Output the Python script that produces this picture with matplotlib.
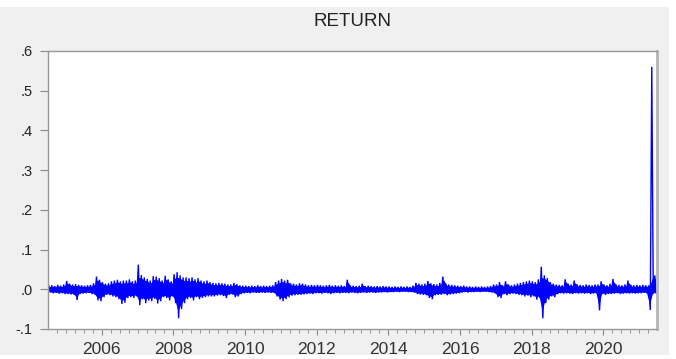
import matplotlib
matplotlib.use("Agg")
import matplotlib.pyplot as plt
import numpy as np
from matplotlib.patches import Rectangle

# Monthly high / low of daily RETURN, in thousandths, Jul 2004 .. Jun 2021
start_year = 2004.5
hi = [
    9, 10, 8, 11, 9, 12,                                  # 2004 Jul-Dec
    21, 14, 12, 13, 11, 10, 9, 10, 11, 15, 32, 24,        # 2005
    18, 14, 15, 20, 22, 24, 20, 22, 22, 25, 20, 22,       # 2006
    62, 36, 30, 26, 22, 33, 32, 28, 22, 34, 25, 20,       # 2007
    38, 43, 35, 30, 30, 28, 30, 25, 28, 22, 20, 22,       # 2008
    18, 16, 15, 16, 15, 14, 12, 12, 16, 13, 10, 9,        # 2009
    9, 8, 9, 8, 10, 8, 9, 8, 9, 10, 18, 22,               # 2010
    26, 22, 24, 15, 14, 12, 15, 14, 12, 10, 11, 10,       # 2011
    11, 10, 9, 10, 11, 9, 10, 9, 10, 8, 24, 9,            # 2012
    9, 8, 9, 14, 8, 9, 8, 7, 8, 7, 8, 7,                  # 2013
    7, 6, 7, 6, 7, 6, 7, 6, 9, 16, 14, 12,                # 2014
    14, 21, 15, 13, 12, 16, 32, 14, 12, 11, 10, 9,        # 2015
    8, 9, 7, 7, 6, 7, 6, 7, 6, 7, 8, 12,                  # 2016
    12, 18, 10, 20, 12, 10, 12, 14, 16, 18, 20, 22,       # 2017
    20, 18, 25, 57, 35, 28, 18, 14, 12, 11, 10, 25,       # 2018
    14, 12, 22, 12, 11, 10, 12, 11, 10, 12, 12, 20,       # 2019
    12, 10, 14, 26, 12, 11, 10, 12, 22, 11, 10, 11,       # 2020
    10, 11, 10, 10, 560, 35,                              # 2021 Jan-Jun
]
lo = [
    -8, -10, -9, -11, -10, -12,
    -12, -13, -14, -27, -12, -11, -10, -9, -12, -14, -28, -30,
    -20, -14, -15, -18, -20, -25, -37, -34, -22, -20, -22, -18,
    -40, -25, -35, -28, -30, -24, -36, -30, -20, -22, -28, -18,
    -35, -73, -50, -35, -25, -22, -28, -20, -25, -22, -20, -18,
    -18, -18, -16, -15, -17, -22, -14, -13, -20, -18, -12, -10,
    -9, -10, -8, -9, -9, -8, -9, -8, -9, -9, -18, -26,
    -30, -25, -20, -16, -15, -14, -14, -13, -12, -11, -12, -10,
    -10, -11, -9, -10, -12, -10, -9, -10, -9, -9, -10, -8,
    -9, -10, -9, -8, -9, -8, -8, -9, -8, -8, -7, -8,
    -7, -7, -6, -7, -6, -6, -7, -7, -8, -12, -13, -14,
    -15, -22, -25, -15, -14, -14, -12, -15, -13, -12, -11, -10,
    -8, -7, -8, -7, -7, -6, -7, -6, -6, -7, -8, -10,
    -20, -22, -12, -15, -12, -11, -12, -14, -15, -18, -16, -20,
    -18, -26, -22, -73, -35, -26, -18, -20, -12, -10, -11, -10,
    -11, -12, -10, -11, -10, -11, -10, -12, -11, -10, -53, -12,
    -14, -12, -12, -11, -10, -12, -11, -10, -11, -10, -11, -10,
    -10, -9, -11, -52, -12, -10,
]
y_ticks = [-0.1, 0.0, 0.1, 0.2, 0.3, 0.4, 0.5, 0.6]
y_labels = ["-.1", ".0", ".1", ".2", ".3", ".4", ".5", ".6"]
x_label_years = [2006, 2008, 2010, 2012, 2014, 2016, 2018, 2020]

n = len(hi)
m = np.arange(n)
hi_v = np.array(hi) / 1000.0
lo_v = np.array(lo) / 1000.0
x_mid = start_year + (m + 0.5) / 12.0
x = np.empty(2 * n)
y = np.empty(2 * n)
x[0::2] = start_year + (m + 0.25) / 12.0
x[1::2] = start_year + (m + 0.75) / 12.0
y[0::2] = hi_v
y[1::2] = lo_v

fig = plt.figure(figsize=(6.76, 3.59), dpi=100)
fig.patch.set_facecolor("white")
fig.add_artist(Rectangle((0, 4 / 359), 669 / 676, 348 / 359, transform=fig.transFigure,
                         facecolor="#f0f0f0", edgecolor="none", zorder=-10))
ax = fig.add_axes([48 / 676, 1 - 329 / 359, (657 - 48) / 676, (329 - 51) / 359])
ax.set_facecolor("white")
# dense core of the daily band (drawn from the monthly envelope), then extremes as a line
band_hi = np.minimum(hi_v, 0.04)
ax.fill_between(x_mid, lo_v * 0.75, band_hi * 0.75, color="#0000ff", lw=0)
ax.plot(x, y, color="#0000ff", lw=1.0, solid_joinstyle="miter")

ax.set_xlim(start_year, start_year + n / 12.0)
ax.set_ylim(-0.1, 0.6)
ax.set_yticks(y_ticks)
ax.set_yticklabels(y_labels, fontsize=10.5, family="Liberation Sans", color="#222222")
ax.set_xticks(x_label_years)
ax.set_xticklabels([str(v) for v in x_label_years], fontsize=12.5,
                   family="Liberation Sans", color="#333333")
ax.set_xticks(np.arange(2004.75, 2021.5, 0.25), minor=True)
ax.tick_params(axis="x", which="major", length=4, color="#888888", direction="out", pad=5)
ax.tick_params(axis="x", which="minor", length=3, color="#888888", direction="out")
ax.tick_params(axis="y", length=6, color="#888888", direction="out", pad=5)
for s in ["left", "bottom", "top"]:
    ax.spines[s].set_color("#999999")
    ax.spines[s].set_linewidth(1.0)
ax.spines["right"].set_color("#b5b5b5")
ax.spines["right"].set_linewidth(2.0)

fig.text(353 / 676, 1 - 21 / 359, "RETURN", ha="center", va="center",
         fontsize=13.5, family="Liberation Sans", color="#222222")

fig.savefig("out.png", dpi=100, facecolor=fig.get_facecolor())
